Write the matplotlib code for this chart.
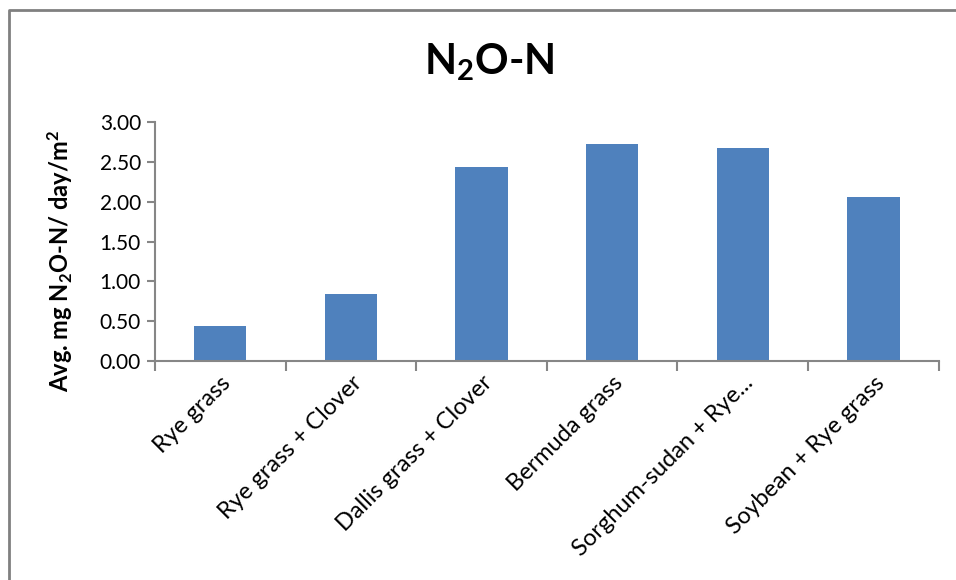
import matplotlib.pyplot as plt
from matplotlib.lines import Line2D

categories = ['Rye grass', 'Rye grass + Clover', 'Dallis grass + Clover',
              'Bermuda grass', 'Sorghum-sudan + Rye...', 'Soybean + Rye grass']
values = [0.44, 0.84, 2.43, 2.72, 2.68, 2.06]
yticks = [0.0, 0.5, 1.0, 1.5, 2.0, 2.5, 3.0]

plt.rcParams['font.family'] = ['Lato', 'DejaVu Sans']
plt.rcParams['mathtext.default'] = 'regular'

fig = plt.figure(figsize=(9.56, 5.8), dpi=100)
ax = fig.add_axes([0.162, 0.3776, 0.820, 0.412])

x = range(len(categories))
ax.bar(x, values, width=0.4, color='#4f81bd')

ax.set_xlim(-0.5, len(categories) - 0.5)
ax.set_ylim(0, 3.0)
ax.set_yticks(yticks)
ax.set_yticklabels([f'{v:.2f}' for v in yticks], fontsize=15)

# ticks between categories, labels at category centres
ax.set_xticks([i - 0.5 for i in range(len(categories) + 1)])
ax.set_xticklabels([])
ax.set_xticks(list(x), minor=True)
ax.set_xticklabels(categories, minor=True, rotation=45, ha='right',
                   rotation_mode='anchor', fontsize=17)
ax.tick_params(axis='x', which='minor', length=0, pad=8)
ax.tick_params(axis='x', which='major', length=7, width=1.5, color='#868686')
ax.tick_params(axis='y', length=6, width=1.5, color='#868686', pad=4)

for side in ['top', 'right']:
    ax.spines[side].set_visible(False)
for side in ['left', 'bottom']:
    ax.spines[side].set_color('#868686')
    ax.spines[side].set_linewidth(1.5)

ax.set_ylabel('Avg. mg N$_2$O-N/ day/m$^2$', fontsize=17, fontweight='bold')
ax.yaxis.set_label_coords(-0.102, 0.42)

fig.text(0.512, 0.893, 'N$_2$O-N', fontsize=30, fontweight='bold',
         ha='center', va='center')

# outer chart border (left and top edges visible)
fig.add_artist(Line2D([9 / 956, 9 / 956, 1.01], [-0.01, 1 - 10 / 580, 1 - 10 / 580],
                      color='#808080', linewidth=2, transform=fig.transFigure))

fig.savefig('out.png', dpi=100)
